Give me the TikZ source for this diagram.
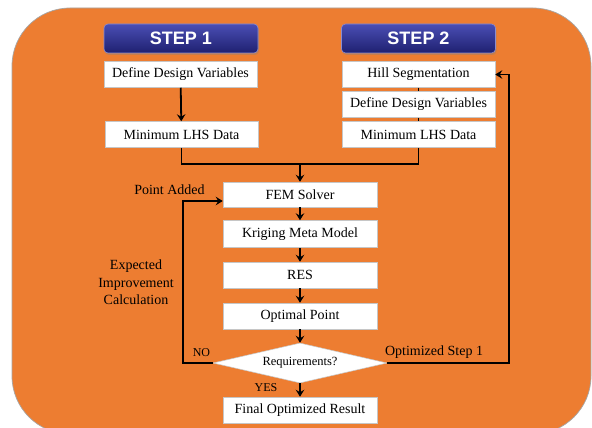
\documentclass[tikz,border=0pt]{standalone}
\usepackage{fontspec}
\setmainfont{Liberation Serif}
\newfontfamily\bannerfont{Liberation Sans}
\usetikzlibrary{arrows.meta,shapes.geometric,shadows}
\definecolor{orng}{HTML}{ED7D31}
\definecolor{navytop}{HTML}{4A4EB4}
\definecolor{navybot}{HTML}{1F2070}
\definecolor{navyedge}{HTML}{8A8CD0}
\begin{document}
\begin{tikzpicture}[x=1pt,y=-1pt,
  box/.style={draw=gray!45, line width=0.5pt, fill=white, minimum width=153pt,
    minimum height=26pt, inner sep=0pt, font=\fontsize{14}{16}\selectfont},
  banner/.style={draw=navyedge, line width=0.6pt, rounded corners=4pt,
    top color=navytop, bottom color=navybot, minimum width=154pt, minimum height=29pt,
    inner sep=0pt, text=white, font=\bannerfont\bfseries\fontsize{18}{20}\selectfont,
    drop shadow={shadow xshift=1pt, shadow yshift=-2pt, opacity=0.35}},
  conn/.style={line width=1.8pt, black},
  arr/.style={conn, -{Stealth[length=7pt,width=8.5pt,inset=2.5pt]}},
  lbl/.style={inner sep=0pt, font=\fontsize{14}{17.3}\selectfont},
  small/.style={inner sep=0pt, font=\fontsize{12}{14}\selectfont}]
\useasboundingbox (0,0) rectangle (592,428);
\clip (0,0) rectangle (592,428);
\fill[white] (0,0) rectangle (592,428);
\draw[draw=gray!70, line width=0.7pt, fill=orng, rounded corners=58pt] (12,8) rectangle (591,434);

% banners
\node[banner] (s1) at (181,38.5) {STEP 1};
\node[banner] (s2) at (418.5,38.5) {STEP 2};

% step 1
\node[box] (d1) at (180.5,74.5) {Define Design Variables};
\node[box] (l1) at (181.5,134.5) {Minimum LHS Data};

% step 2
\node[box] (h2) at (418.5,74.5) {Hill Segmentation};
\node[box] (d2) at (418.5,104.5) {Define Design Variables};
\node[box] (l2) at (418.5,134.5) {Minimum LHS Data};

% main flow
\node[box, minimum width=154pt, minimum height=25pt] (fem) at (300,194.5) {FEM Solver};
\node[box, minimum width=154pt, minimum height=27pt] (krig) at (300,234) {Kriging Meta Model};
\node[box, minimum width=154pt] (res) at (300,275) {RES};
\node[box, minimum width=154pt] (opt) at (300,316) {Optimal Point};
\node[diamond, draw=gray!45, line width=0.5pt, fill=white, minimum width=174pt,
  minimum height=40pt, inner sep=0pt, aspect=4.35,
  font=\fontsize{12.5}{14}\selectfont] (dia) at (300,363) {Requirements?};
\node[box, minimum width=154pt] (fin) at (300,410) {Final Optimized Result};

% connectors
\draw[arr] (d1) -- (l1);
\draw[conn] (h2) -- (d2);
\draw[conn] (d2) -- (l2);
\coordinate (mrg) at (300,164);
\draw[conn] (l1.south) |- (mrg);
\draw[conn] (l2.south) |- (mrg);
\draw[arr] (mrg) -- (fem.north);
\draw[arr] (fem) -- (krig);
\draw[arr] (krig) -- (res);
\draw[arr] (res) -- (opt);
\draw[arr] (opt) -- (dia);
\draw[arr] (dia) -- (fin);
\coordinate (noc) at (183,201);
\draw[arr] (dia.west) -| (noc) -- (noc -| fem.west);
\coordinate (yc) at (509,363);
\draw[arr] (dia.east) -- (yc) |- (h2.east);

% labels
\node[lbl, anchor=base] (pa) at (169.5,194) {Point Added};
\node[lbl, align=center] (eic) at (136,282.5) {Expected\\Improvement\\Calculation};
\node[small, anchor=base] (no) at (201.5,356) {NO};
\node[small, anchor=base] (yes) at (266,391.5) {YES};
\node[lbl, anchor=base] (os) at (434,355) {Optimized Step 1};
\end{tikzpicture}
\end{document}
